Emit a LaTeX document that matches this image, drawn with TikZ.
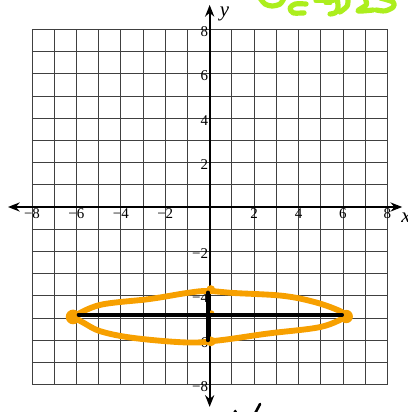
\documentclass[tikz,border=0pt]{standalone}
\usepackage{fontspec}
\setmainfont{Liberation Serif}
\usetikzlibrary{arrows.meta}
\definecolor{hlorange}{RGB}{247,160,0}
\definecolor{hlgreen}{RGB}{172,238,30}
\tikzset{
  ticklab/.style={font=\fontsize{11.5}{12}\selectfont, inner sep=0pt},
  axislab/.style={font=\fontsize{16}{18}\selectfont\itshape, inner sep=0pt},
  axisline/.style={line width=1.5pt, {Stealth[length=9pt,width=7pt]}-{Stealth[length=9pt,width=7pt]}},
  marker/.style={line width=4.5pt, line cap=round, line join=round, hlorange},
  pen/.style={line width=3pt, line cap=round},
  scribble/.style={line width=4pt, line cap=round, line join=round, hlgreen}
}
\begin{document}
\begin{tikzpicture}[x=0.6cm,y=0.6cm]
    \useasboundingbox (-9.44,-9.23) rectangle (8.89,9.32);
    \draw[black!75, line width=0.6pt, step=1] (-8,-8) grid (8,8);
    \coordinate (W) at (-9.08,0); \coordinate (E) at (8.67,0);
    \coordinate (N) at (0,9.1); \coordinate (S) at (0,-9.0);
    \draw[axisline] (W)--(E); \draw[axisline] (S)--(N);
    \foreach \k/\t in {-8/−8,-6/−6,-4/−4,-2/−2,2/2,4/4,6/6,8/8} {
      \node[ticklab, anchor=north] (xl\k) at (\k,-0.08) {\t};
      \node[ticklab, anchor=east] (yl\k) at (-0.06,\k-0.1) {\t};
    }
    \node[axislab, anchor=base west] (xname) at (8.62,-0.68) {x};
    \node[axislab, anchor=base west] (yname) at (0.45,8.56) {y};
    % ellipse traced by hand
    \coordinate (L) at (-6.15,-4.95); \coordinate (R) at (6.15,-4.93);
    \coordinate (T) at (0.05,-3.72); \coordinate (B) at (0.05,-6.05);
    \draw[marker] plot[smooth, tension=0.6] coordinates {(L) (-4.94,-4.41) (-2.68,-4.14)
      (-1.02,-3.87) (-0.1,-3.78) (1.06,-3.87) (3.3,-4.0) (4.8,-4.3) (5.9,-4.7) (R)};
    \draw[marker] plot[smooth, tension=0.6] coordinates {(R) (5.0,-5.4) (2.6,-5.7)
      (0.47,-6.0) (-1.0,-6.1) (-3.4,-5.9) (-4.9,-5.6) (-5.7,-5.2) (L)};
    \fill[hlorange] (L) circle (0.33); \fill[hlorange] (R) circle (0.3);
    \fill[hlorange] (T) circle (0.2); \fill[hlorange] (B) circle (0.22);
    \fill[hlorange] (0.08,-4.78) circle (0.13);
    % axes of the ellipse
    \coordinate (A1) at (-5.9,-4.85); \coordinate (A2) at (5.96,-4.85);
    \coordinate (C1) at (-0.08,-3.85); \coordinate (C2) at (-0.08,-6.0);
    \draw[pen] (A1)--(A2); \draw[pen] (C1)--(C2);
    % pen marks cut off at the edges
    \fill (1.15,-9.2) circle (0.08);
    \draw[line width=2pt, line cap=round] (2.04,-9.3)--(2.27,-8.87);
    \draw[scribble] plot[smooth] coordinates {(2.23,9.46) (2.49,9.14) (2.81,9.05) (3.17,9.14) (3.35,9.41)};
    \draw[scribble] plot[smooth] coordinates {(4.34,9.14) (3.85,9.14) (3.62,8.96) (3.76,8.74) (4.25,8.74)};
    \draw[scribble] (4.79,9.28)--(5.56,9.28);
    \draw[scribble] (5.24,9.19)--(5.42,9.19);
    \draw[scribble] plot[smooth] coordinates {(5.74,9.41) (5.78,8.96) (5.65,8.74) (5.42,8.69)};
    \draw[scribble] plot[smooth] coordinates {(6.23,9.41) (6.19,9.05) (5.87,8.78)};
    \draw[scribble] plot[smooth] coordinates {(7.0,9.4) (7.05,9.1) (6.68,8.83) (7.36,8.87)};
    \draw[scribble] plot[smooth] coordinates {(7.68,9.41) (8.26,9.23) (8.26,9.0) (7.9,8.83) (7.5,8.87)};
\end{tikzpicture}
\end{document}
